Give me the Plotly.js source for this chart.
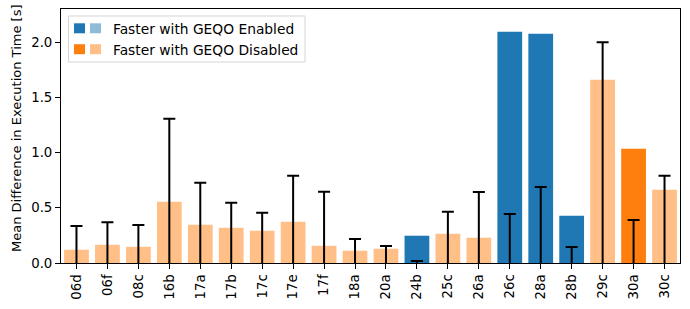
<!DOCTYPE html>
<html>
<head>
<meta charset="utf-8">
<script src="https://cdn.plot.ly/plotly-3.0.1.min.js"></script>
<style>html,body{margin:0;padding:0;background:#fff;}</style>
</head>
<body>
<div id="chart" style="width:690px;height:309px;"></div>
<script>
const queries = ['06d','06f','08c','16b','17a','17b','17c','17e','17f','18a','20a','24b','25c','26a','26c','28a','28b','29c','30a','30c'];
const meanDiff = [0.12,0.165,0.147,0.555,0.346,0.319,0.292,0.373,0.156,0.111,0.129,0.247,0.265,0.229,2.093,2.075,0.428,1.659,1.034,0.663];
const errValues = [0.335,0.37,0.343,1.306,0.727,0.545,0.455,0.79,0.645,0.217,0.154,0.018,0.464,0.642,0.443,0.688,0.145,2.0,0.389,0.79];
const fasterWith = ['D','D','D','D','D','D','D','D','D','D','D','E','D','D','E','E','E','D','D','D'];
const significant = [false,false,false,false,false,false,false,false,false,false,false,true,false,false,true,true,true,false,true,false];
const legendLabels = ['Faster with GEQO Enabled','Faster with GEQO Disabled'];

const palette = {E:{dark:'#1f77b4', light:'#8fbbd9'}, D:{dark:'#ff7f0e', light:'#ffbf86'}};
const barColors = queries.map((q,i)=> significant[i] ? palette[fasterWith[i]].dark : palette[fasterWith[i]].light);
const xIdx = queries.map((q,i)=>i);

const FONT = 'DejaVu Sans, sans-serif';
const FS = 13.3;
const TFS = 13.0;
const LFS = 13.8;

const traces = [
  {type:'bar', x:xIdx, y:meanDiff, marker:{color:barColors, line:{width:0}}, width:0.8, showlegend:false, hoverinfo:'skip'},
  {type:'scatter', mode:'markers', x:xIdx, y:queries.map(()=>0), marker:{size:0.1, color:'rgba(0,0,0,0)'},
   error_y:{type:'data', array:errValues, symmetric:true, color:'#000', thickness:2, width:6},
   showlegend:false, hoverinfo:'skip', cliponaxis:true}
];

// custom legend (two swatches per entry)
const shapes = [];
const annotations = [];
const px = v => (v-61)/619;
const py = v => (263-v)/254;
shapes.push({type:'rect', xref:'paper', yref:'paper', x0:px(68.5), x1:px(305), y0:py(62), y1:py(16),
  line:{color:'#d5d5d5', width:1}, fillcolor:'rgba(255,255,255,0.8)', layer:'above'});
const keys = ['E','D'];
const rowsY = [28.3, 49.2];
keys.forEach((k,r)=>{
  shapes.push({type:'rect', xref:'paper', yref:'paper', x0:px(74), x1:px(85), y0:py(rowsY[r]+5), y1:py(rowsY[r]-5), line:{width:0}, fillcolor:palette[k].dark, layer:'above'});
  shapes.push({type:'rect', xref:'paper', yref:'paper', x0:px(90), x1:px(101), y0:py(rowsY[r]+5), y1:py(rowsY[r]-5), line:{width:0}, fillcolor:palette[k].light, layer:'above'});
  annotations.push({xref:'paper', yref:'paper', x:px(111), y:py(rowsY[r]+0.5), xanchor:'left', yanchor:'middle', showarrow:false,
    text:legendLabels[r], font:{family:FONT, size:LFS, color:'#000'}});
});
annotations.push({xref:'paper', yref:'paper', x:px(16), y:py(129), xanchor:'center', yanchor:'middle', showarrow:false,
  textangle:-90, text:'Mean Difference in Execution Time [s]', font:{family:FONT, size:TFS, color:'#000'}});

const layout = {
  width:690, height:309,
  margin:{l:61, r:10, t:9, b:46, pad:0},
  paper_bgcolor:'#fff', plot_bgcolor:'#fff',
  font:{family:FONT, size:FS, color:'#000'},
  showlegend:false,
  xaxis:{range:[-0.5,19.5], tickmode:'array', tickvals:xIdx, ticktext:queries, tickangle:-90,
    ticks:'outside', ticklen:5, tickwidth:1, tickcolor:'#000', showgrid:false, zeroline:false,
    showline:true, linecolor:'#000', linewidth:1, mirror:true, fixedrange:true,
    tickfont:{family:FONT, size:FS, color:'#000'}},
  yaxis:{range:[0,2.30], tickmode:'array', tickvals:[0,0.5,1.0,1.5,2.0], ticktext:['0.0','0.5','1.0','1.5','2.0'],
    ticks:'outside', ticklen:5, tickwidth:1, tickcolor:'#000', showgrid:false, zeroline:false,
    showline:true, linecolor:'#000', linewidth:1, mirror:true, fixedrange:true,
    tickfont:{family:FONT, size:FS, color:'#000'}},
  shapes:shapes, annotations:annotations,
  bargap:0.2
};
Plotly.newPlot('chart', traces, layout, {staticPlot:true, displayModeBar:false});
</script>
</body>
</html>
